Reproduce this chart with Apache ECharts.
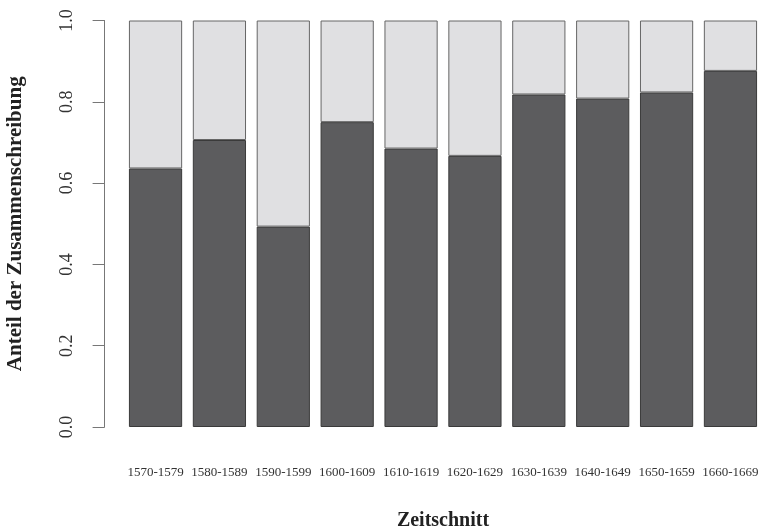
<!DOCTYPE html>
<html>
<head>
<meta charset="utf-8">
<script src="https://cdn.jsdelivr.net/npm/echarts@6/dist/echarts.min.js"></script>
<style>
  html, body { margin: 0; padding: 0; background: #fff; }
  #chart { width: 760px; height: 530px; }
</style>
</head>
<body>
<div id="chart"></div>
<script>
// Zeitschnitte (Kategorien)
var zeitschnitte = ['1570-1579', '1580-1589', '1590-1599', '1600-1609', '1610-1619',
  '1620-1629', '1630-1639', '1640-1649', '1650-1659', '1660-1669']
// Anteil der Zusammenschreibung je Zeitschnitt
var anteil = [0.636, 0.706, 0.493, 0.750, 0.685, 0.667, 0.818, 0.808, 0.823, 0.876]
// Rest bis 1.0 (Getrenntschreibung)
var rest = anteil.map(function (v) { return +(1 - v).toFixed(3) })
// y-Achse
var yTicks = [0, 0.2, 0.4, 0.6, 0.8, 1.0]

var serif = '"Liberation Serif", "DejaVu Serif", serif'
var chart = echarts.init(document.getElementById('chart'))
var option = {
  animation: false,
  backgroundColor: '#fff',
  grid: {
    left: 123.6,
    top: 20.5,
    width: 638.8,
    height: 406.5,
    // Plotbereich ragt rechts etwas über den Rand hinaus
    outerBoundsMode: 'none'
  },
  xAxis: {
    type: 'category',
    data: zeitschnitte,
    axisLine: { show: false },
    axisTick: { show: false },
    axisLabel: {
      margin: 39,
      fontFamily: serif,
      fontSize: 13,
      color: '#333',
      interval: 0
    },
    name: 'Zeitschnitt',
    nameLocation: 'middle',
    nameGap: 84,
    nameTextStyle: {
      fontFamily: serif,
      fontWeight: 'bold',
      fontSize: 20,
      color: '#222'
    }
  },
  yAxis: {
    type: 'value',
    min: yTicks[0],
    max: yTicks[yTicks.length - 1],
    interval: 0.2,
    offset: 19,
    splitLine: { show: false },
    axisLine: { show: true, lineStyle: { color: '#777', width: 1 } },
    axisTick: { show: true, length: 12, lineStyle: { color: '#777', width: 1 } },
    axisLabel: {
      rotate: 90,
      margin: 28,
      fontFamily: serif,
      fontSize: 18,
      color: '#333',
      formatter: function (v) { return v.toFixed(1) }
    },
    name: 'Anteil der Zusammenschreibung',
    nameLocation: 'middle',
    nameGap: 79,
    nameTextStyle: {
      fontFamily: serif,
      fontWeight: 'bold',
      fontSize: 21,
      color: '#222'
    }
  },
  series: [
    {
      name: 'Zusammenschreibung',
      type: 'bar',
      stack: 'anteil',
      barCategoryGap: '16.7%',
      silent: true,
      itemStyle: { color: '#5c5c5e', borderColor: '#3a3a3a', borderWidth: 1 },
      data: anteil
    },
    {
      name: 'Rest',
      type: 'bar',
      stack: 'anteil',
      barCategoryGap: '16.7%',
      silent: true,
      itemStyle: { color: '#e0e0e2', borderColor: '#666', borderWidth: 1 },
      data: rest
    }
  ]
}
option && chart.setOption(option)
</script>
</body>
</html>
